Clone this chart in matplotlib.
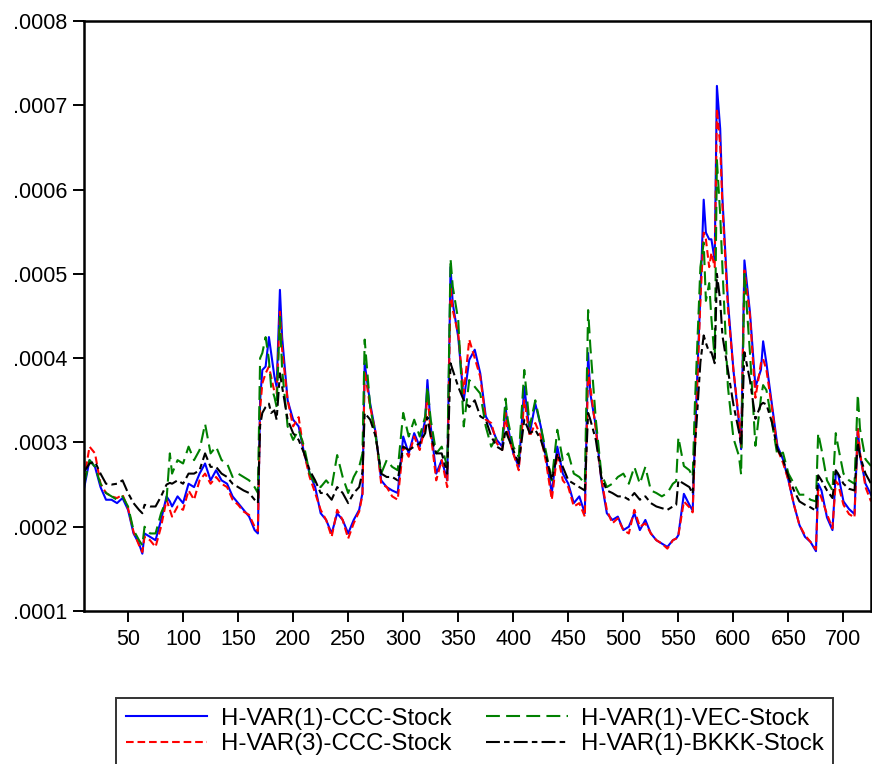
import matplotlib
matplotlib.use("Agg")
import matplotlib.pyplot as plt
from matplotlib.ticker import FuncFormatter

plt.rcParams['font.family'] = ['Liberation Sans', 'DejaVu Sans']
plt.rcParams['lines.scale_dashes'] = False

obs = [10, 15, 20, 25, 30, 35, 40, 45, 50, 55,
       60, 63, 65, 70, 75, 80, 85, 88, 90, 95,
       100, 105, 110, 115, 120, 125, 130, 135, 140, 145,
       150, 155, 160, 165, 168, 170, 172, 175, 178, 180,
       183, 185, 188, 190, 195, 200, 205, 210, 215, 220,
       225, 230, 235, 240, 245, 250, 255, 260, 263, 265,
       270, 275, 280, 285, 290, 295, 300, 305, 310, 315,
       320, 322, 325, 330, 335, 340, 343, 345, 350, 355,
       360, 365, 370, 375, 380, 385, 390, 393, 395, 400,
       405, 410, 415, 420, 425, 430, 435, 440, 445, 450,
       455, 460, 465, 468, 470, 475, 480, 485, 490, 495,
       500, 505, 510, 515, 520, 525, 530, 535, 540, 545,
       548, 550, 555, 560, 563, 565, 570, 573, 575, 578,
       580, 583, 585, 588, 590, 595, 600, 605, 607, 610,
       615, 620, 625, 627, 630, 635, 640, 645, 650, 655,
       660, 665, 670, 675, 677, 680, 685, 690, 693, 695,
       700, 705, 710, 713, 715, 720, 725]

# values in units of 1e-4
ccc1 = [2.45, 2.79, 2.71, 2.47, 2.32, 2.32, 2.28, 2.34, 2.20, 1.92,
        1.80, 1.68, 1.92, 1.88, 1.84, 2.08, 2.36, 2.30, 2.24, 2.36,
        2.28, 2.51, 2.47, 2.63, 2.75, 2.55, 2.67, 2.55, 2.51, 2.36,
        2.28, 2.20, 2.12, 1.96, 1.92, 3.50, 3.86, 3.90, 4.25, 4.06,
        3.78, 3.66, 4.81, 4.25, 3.50, 3.27, 3.19, 2.87, 2.63, 2.47,
        2.16, 2.08, 1.92, 2.16, 2.08, 1.92, 2.08, 2.20, 2.40, 3.94,
        3.46, 3.11, 2.55, 2.47, 2.43, 2.40, 3.07, 2.87, 3.11, 2.95,
        3.27, 3.74, 3.19, 2.63, 2.79, 2.55, 5.08, 4.65, 4.25, 3.50,
        3.98, 4.10, 3.82, 3.31, 3.19, 3.03, 2.95, 3.42, 3.19, 2.87,
        2.71, 3.66, 3.11, 3.46, 3.19, 2.79, 2.40, 2.95, 2.63, 2.51,
        2.28, 2.36, 2.16, 4.06, 3.58, 3.19, 2.55, 2.16, 2.08, 2.12,
        1.96, 2.00, 2.16, 1.96, 2.08, 1.92, 1.84, 1.80, 1.76, 1.84,
        1.86, 1.90, 2.39, 2.26, 2.19, 3.05, 4.76, 5.88, 5.49, 5.41,
        5.41, 5.16, 7.23, 6.72, 5.90, 4.68, 3.86, 3.24, 2.92, 5.16,
        4.55, 3.66, 3.86, 4.20, 3.94, 3.45, 2.96, 2.80, 2.55, 2.26,
        2.02, 1.88, 1.82, 1.71, 2.51, 2.43, 2.11, 1.96, 2.63, 2.63,
        2.30, 2.21, 2.15, 3.16, 2.84, 2.51, 2.38]

ccc3 = [2.55, 2.95, 2.87, 2.51, 2.40, 2.36, 2.34, 2.38, 2.22, 1.94,
        1.78, 1.70, 1.88, 1.84, 1.76, 2.00, 2.32, 2.20, 2.12, 2.24,
        2.20, 2.43, 2.32, 2.55, 2.63, 2.51, 2.59, 2.51, 2.47, 2.32,
        2.26, 2.18, 2.14, 2.00, 1.95, 3.40, 3.70, 3.82, 3.90, 3.78,
        3.60, 3.58, 4.55, 4.10, 3.50, 3.19, 3.30, 2.87, 2.59, 2.40,
        2.20, 2.08, 1.88, 2.20, 2.08, 1.86, 2.04, 2.18, 2.38, 3.85,
        3.42, 3.11, 2.51, 2.47, 2.36, 2.32, 2.95, 2.83, 3.07, 2.91,
        3.19, 3.60, 3.11, 2.55, 2.79, 2.47, 4.85, 4.57, 4.29, 3.58,
        4.22, 4.00, 3.78, 3.27, 3.23, 2.99, 2.91, 3.35, 3.11, 2.87,
        2.67, 3.50, 3.07, 3.23, 3.07, 2.75, 2.32, 2.87, 2.55, 2.47,
        2.24, 2.28, 2.12, 3.86, 3.66, 3.15, 2.57, 2.20, 2.04, 2.10,
        1.96, 1.92, 2.20, 2.00, 2.04, 1.92, 1.84, 1.80, 1.74, 1.84,
        1.86, 1.90, 2.30, 2.23, 2.17, 2.92, 4.68, 5.49, 5.41, 5.08,
        5.25, 5.08, 6.96, 6.52, 5.81, 4.60, 3.86, 3.28, 2.95, 5.04,
        4.51, 3.53, 3.94, 3.99, 3.86, 3.41, 2.92, 2.76, 2.55, 2.26,
        2.02, 1.90, 1.82, 1.73, 2.44, 2.34, 2.15, 1.98, 2.54, 2.51,
        2.26, 2.15, 2.11, 3.18, 2.88, 2.47, 2.30]

vec = [2.50, 2.79, 2.71, 2.51, 2.40, 2.36, 2.32, 2.36, 2.24, 1.96,
       1.84, 1.78, 2.00, 1.92, 1.92, 2.16, 2.32, 2.87, 2.63, 2.79,
       2.75, 2.95, 2.79, 2.91, 3.22, 2.87, 2.95, 2.79, 2.75, 2.59,
       2.63, 2.59, 2.55, 2.47, 2.40, 4.00, 4.06, 4.25, 3.98, 3.66,
       3.54, 3.42, 4.49, 3.86, 3.19, 3.03, 3.15, 2.95, 2.63, 2.51,
       2.47, 2.55, 2.47, 2.85, 2.59, 2.40, 2.59, 2.71, 2.87, 4.22,
       3.42, 3.07, 2.63, 2.79, 2.71, 2.67, 3.35, 3.07, 3.27, 3.07,
       3.31, 3.66, 3.27, 2.87, 2.95, 2.71, 5.18, 4.85, 4.45, 3.19,
       3.74, 3.66, 3.58, 3.19, 2.95, 3.07, 3.03, 3.52, 3.27, 2.95,
       2.83, 3.86, 3.19, 3.50, 3.19, 2.87, 2.55, 3.15, 2.79, 2.87,
       2.63, 2.59, 2.51, 4.57, 4.14, 3.27, 2.63, 2.47, 2.51, 2.59,
       2.63, 2.51, 2.71, 2.51, 2.71, 2.43, 2.40, 2.36, 2.40, 2.51,
       2.54, 3.06, 2.72, 2.67, 2.59, 3.45, 5.08, 5.37, 4.68, 4.89,
       4.47, 3.99, 6.35, 5.70, 5.08, 3.66, 3.05, 2.84, 2.62, 5.00,
       4.07, 2.96, 3.53, 3.68, 3.62, 3.24, 2.84, 2.88, 2.63, 2.51,
       2.38, 2.38, 2.32, 2.30, 3.11, 2.92, 2.55, 2.43, 3.11, 2.96,
       2.63, 2.55, 2.51, 3.57, 3.16, 2.80, 2.72]

bkkk = [2.65, 2.75, 2.77, 2.63, 2.51, 2.50, 2.51, 2.55, 2.40, 2.28,
        2.20, 2.16, 2.26, 2.24, 2.24, 2.36, 2.50, 2.52, 2.51, 2.55,
        2.51, 2.63, 2.63, 2.67, 2.87, 2.71, 2.71, 2.63, 2.59, 2.51,
        2.47, 2.43, 2.40, 2.32, 2.28, 3.20, 3.35, 3.42, 3.46, 3.35,
        3.38, 3.27, 3.82, 3.66, 3.27, 3.11, 3.03, 2.87, 2.67, 2.55,
        2.40, 2.40, 2.32, 2.47, 2.40, 2.28, 2.40, 2.47, 2.65, 3.35,
        3.27, 3.07, 2.63, 2.59, 2.59, 2.55, 2.95, 2.91, 2.95, 2.99,
        3.11, 3.30, 3.07, 2.87, 2.87, 2.63, 3.94, 3.86, 3.66, 3.50,
        3.42, 3.50, 3.31, 3.27, 3.07, 2.95, 2.91, 3.15, 3.07, 2.91,
        2.75, 3.27, 3.11, 3.15, 3.03, 2.83, 2.55, 2.87, 2.71, 2.55,
        2.51, 2.47, 2.43, 3.35, 3.27, 3.03, 2.59, 2.43, 2.40, 2.36,
        2.36, 2.32, 2.40, 2.32, 2.36, 2.28, 2.24, 2.22, 2.20, 2.24,
        2.26, 2.55, 2.51, 2.47, 2.39, 2.92, 3.95, 4.27, 4.18, 4.07,
        4.07, 3.94, 5.00, 4.68, 4.27, 3.86, 3.45, 3.13, 2.96, 4.07,
        3.74, 3.28, 3.45, 3.47, 3.45, 3.24, 2.92, 2.80, 2.59, 2.43,
        2.30, 2.26, 2.23, 2.19, 2.61, 2.55, 2.43, 2.34, 2.67, 2.63,
        2.51, 2.45, 2.43, 3.00, 2.84, 2.63, 2.51]

labels = ['H-VAR(1)-CCC-Stock', 'H-VAR(3)-CCC-Stock',
          'H-VAR(1)-VEC-Stock', 'H-VAR(1)-BKKK-Stock']
unit = 1e-4

fig = plt.figure(figsize=(8.72, 7.64), dpi=100)
ax = fig.add_axes([84 / 872, 1 - 611 / 764, (871 - 84) / 872, (611 - 21) / 764])

ax.plot(obs, [v * unit for v in ccc1], color='#0000ff', lw=1.5, label=labels[0])
ax.plot(obs, [v * unit for v in ccc3], color='#ff0000', lw=1.5,
        dashes=(5.5, 2.8), label=labels[1])
ax.plot(obs, [v * unit for v in vec], color='#008000', lw=1.5,
        dashes=(10, 4.5), label=labels[2])
ax.plot(obs, [v * unit for v in bkkk], color='black', lw=1.5,
        dashes=(10, 3, 4, 3), label=labels[3])

ax.set_xlim(10, 725)
ax.set_ylim(0.0001, 0.0008)
ax.set_xticks(range(50, 701, 50))
ax.set_yticks([i * unit for i in range(1, 9)])
ax.yaxis.set_major_formatter(FuncFormatter(lambda v, p: f"{v:.4f}".lstrip('0')))
ax.tick_params(direction='out', length=8, width=1.4, labelsize=15.5,
               top=False, right=False, color='black')
ax.tick_params(axis='y', pad=4)
ax.tick_params(axis='x', pad=5)
for s in ax.spines.values():
    s.set_linewidth(1.8)

h, l = ax.get_legend_handles_labels()
leg = fig.legend(h, l, loc='upper left', ncol=2,
                 bbox_to_anchor=(116 / 872, 1 - 698 / 764),
                 borderaxespad=0, fontsize=17.3, frameon=True, fancybox=False,
                 edgecolor='black', handlelength=3.4, handletextpad=0.55,
                 columnspacing=1.45, labelspacing=0.14, borderpad=0.4)
leg.get_frame().set_linewidth(1.4)

fig.savefig('out.png', dpi=100)
